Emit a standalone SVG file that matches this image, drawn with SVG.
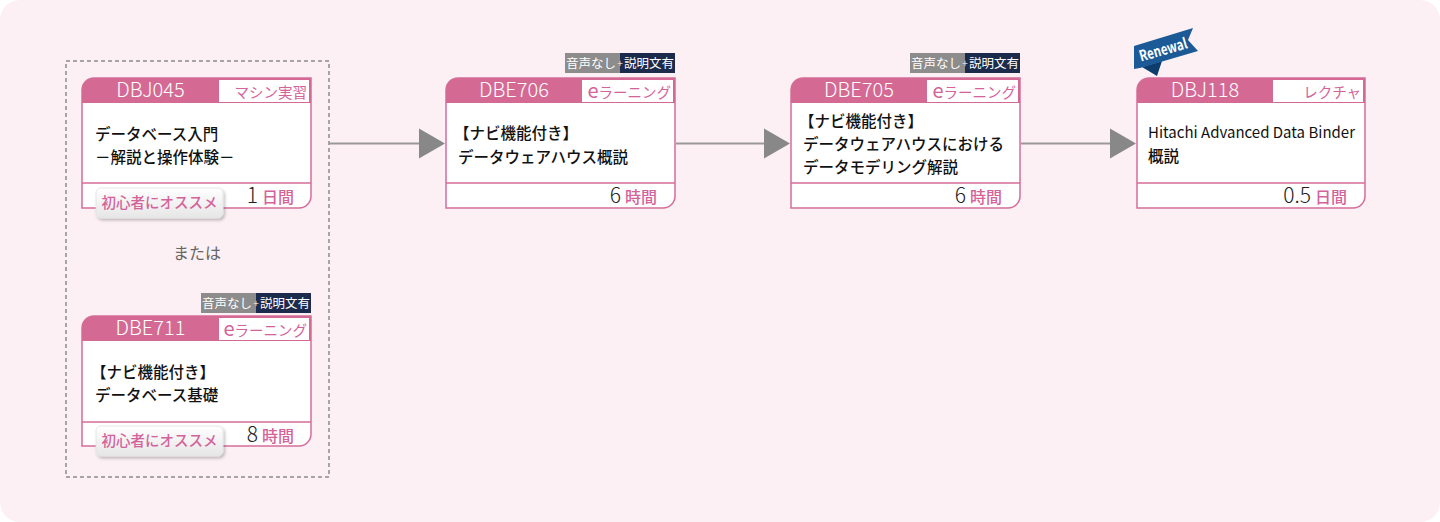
<svg xmlns="http://www.w3.org/2000/svg" width="1440" height="522" viewBox="0 0 1440 522">
<style>
text{font-family:"Noto Sans CJK JP","Noto Sans",sans-serif;}
.card{fill:#fff;stroke:#d66d98;stroke-width:1.5;}
.hdr{fill:#d46a94;}
.hbox{fill:#fff;}
.code{fill:#fff;font-size:20px;text-anchor:middle;font-weight:300;}
.kind{fill:#d4639a;font-size:14.5px;text-anchor:end;}
.kind .e{font-size:20px;}
.body{fill:#111;font-size:15.5px;font-weight:500;}
.lat{font-size:15px;font-weight:400;}
.sep{stroke:#d66d98;stroke-width:1.5;}
.dur{text-anchor:end;}
.num{fill:#222;font-size:21px;font-weight:300;}
.unit{fill:#d4639a;font-size:16px;font-weight:500;}
.rec{fill:url(#recg);stroke:#e2e2e2;stroke-width:0.8;filter:url(#sh);}
.rect{fill:#d4639a;font-size:14.5px;text-anchor:middle;font-weight:500;}
.ag{fill:#8c8c8c;}
.an{fill:#1c2a4c;}
.at{fill:#fff;font-size:12.5px;}
.ap{fill:#ddd;font-size:10px;text-anchor:middle;}
.conn{stroke:#999;stroke-width:2;fill:none;}
.head{fill:#888;}
</style>
<defs>
<linearGradient id="recg" x1="0" y1="0" x2="0" y2="1">
<stop offset="0" stop-color="#ffffff"/>
<stop offset="1" stop-color="#e6e6e6"/>
</linearGradient>
<filter id="sh" x="-10%" y="-20%" width="130%" height="160%">
<feDropShadow dx="1.5" dy="2" stdDeviation="1.5" flood-color="#000" flood-opacity="0.25"/>
</filter>
</defs>
<rect x="0" y="0" width="1440" height="522" rx="20" fill="#fcf0f4"/>
<rect x="66" y="61" width="263" height="416" fill="none" stroke="#8a8a8a" stroke-width="1.5" stroke-dasharray="4 3"/>
<text x="197" y="259" fill="#666" font-size="16" text-anchor="middle">または</text>

<g id="connectors">
<path class="conn" d="M329,143.5 H421"/>
<polygon class="head" points="419,128.5 445,143.5 419,158.5"/>
<path class="conn" d="M676,143.5 H766"/>
<polygon class="head" points="764,128.5 790,143.5 764,158.5"/>
<path class="conn" d="M1021,143.5 H1112"/>
<polygon class="head" points="1110,128.5 1136,143.5 1110,158.5"/>
</g>

<g id="DBJ045" transform="translate(82,78)">
<path class="card" d="M12,0 H229 V118 A12,12 0 0 1 217,130 H0 V12 A12,12 0 0 1 12,0 Z"/>
<path class="hdr" d="M12,0 H229 V25 H0 V12 A12,12 0 0 1 12,0 Z"/>
<rect class="hbox" x="137" y="2" width="90" height="22"/>
<text class="code" x="68.5" y="19">DBJ045</text>
<text class="kind" x="225" y="20">マシン実習</text>
<text class="body" x="13" y="62">データベース入門</text>
<text class="body" x="13" y="85">－解説と操作体験－</text>
<line class="sep" x1="0" y1="105" x2="229" y2="105"/>
<text class="dur" x="212" y="125"><tspan class="num">1</tspan><tspan class="unit" dx="4">日間</tspan></text>
<rect class="rec" x="14" y="110" width="127" height="30" rx="5"/>
<text class="rect" x="77.5" y="130">初心者にオススメ</text>
</g>

<g id="DBE711" transform="translate(82,316)">
<g>
<rect class="ag" x="119" y="-23" width="55" height="20"/>
<rect class="an" x="174" y="-23" width="55" height="20"/>
<text class="at" x="120" y="-8.5">音声なし</text>
<text class="ap" x="174" y="-9">+</text>
<text class="at" x="178" y="-8.5">説明文有</text>
</g>
<path class="card" d="M12,0 H229 V118 A12,12 0 0 1 217,130 H0 V12 A12,12 0 0 1 12,0 Z"/>
<path class="hdr" d="M12,0 H229 V25 H0 V12 A12,12 0 0 1 12,0 Z"/>
<rect class="hbox" x="137" y="2" width="90" height="22"/>
<text class="code" x="68.5" y="19">DBE711</text>
<text class="kind" x="225" y="20"><tspan class="e">e</tspan>ラーニング</text>
<text class="body" x="9" y="62">【ナビ機能付き】</text>
<text class="body" x="13" y="85">データベース基礎</text>
<line class="sep" x1="0" y1="106" x2="229" y2="106"/>
<text class="dur" x="212" y="126"><tspan class="num">8</tspan><tspan class="unit" dx="4">時間</tspan></text>
<rect class="rec" x="14" y="110" width="127" height="30" rx="5"/>
<text class="rect" x="77.5" y="130">初心者にオススメ</text>
</g>

<g id="DBE706" transform="translate(446,78)">
<g>
<rect class="ag" x="119" y="-25" width="55" height="20"/>
<rect class="an" x="174" y="-25" width="55" height="20"/>
<text class="at" x="120" y="-10.5">音声なし</text>
<text class="ap" x="174" y="-11">+</text>
<text class="at" x="178" y="-10.5">説明文有</text>
</g>
<path class="card" d="M12,0 H229 V118 A12,12 0 0 1 217,130 H0 V12 A12,12 0 0 1 12,0 Z"/>
<path class="hdr" d="M12,0 H229 V25 H0 V12 A12,12 0 0 1 12,0 Z"/>
<rect class="hbox" x="136" y="2" width="91" height="22"/>
<text class="code" x="68" y="19">DBE706</text>
<text class="kind" x="225" y="20"><tspan class="e">e</tspan>ラーニング</text>
<text class="body" x="8" y="61">【ナビ機能付き】</text>
<text class="body" x="12" y="85">データウェアハウス概説</text>
<line class="sep" x1="0" y1="105" x2="229" y2="105"/>
<text class="dur" x="211" y="125"><tspan class="num">6</tspan><tspan class="unit" dx="4">時間</tspan></text>
</g>

<g id="DBE705" transform="translate(791,78)">
<g>
<rect class="ag" x="119" y="-25" width="55" height="20"/>
<rect class="an" x="174" y="-25" width="55" height="20"/>
<text class="at" x="120" y="-10.5">音声なし</text>
<text class="ap" x="174" y="-11">+</text>
<text class="at" x="178" y="-10.5">説明文有</text>
</g>
<path class="card" d="M12,0 H229 V118 A12,12 0 0 1 217,130 H0 V12 A12,12 0 0 1 12,0 Z"/>
<path class="hdr" d="M12,0 H229 V25 H0 V12 A12,12 0 0 1 12,0 Z"/>
<rect class="hbox" x="136" y="2" width="91" height="22"/>
<text class="code" x="68" y="19">DBE705</text>
<text class="kind" x="225" y="20"><tspan class="e">e</tspan>ラーニング</text>
<text class="body" x="8" y="49">【ナビ機能付き】</text>
<text class="body" x="12" y="72">データウェアハウスにおける</text>
<text class="body" x="12" y="95">データモデリング解説</text>
<line class="sep" x1="0" y1="105" x2="229" y2="105"/>
<text class="dur" x="211" y="125"><tspan class="num">6</tspan><tspan class="unit" dx="4">時間</tspan></text>
</g>

<g id="DBJ118" transform="translate(1137,78)">
<g id="renewal">
<polygon fill="#0e3c6c" points="5,-11 25,-17 20,-2"/>
<polygon fill="#1b5a96" points="-3,-32 56,-50 51,-38 61,-27 3,-10 -3,-9"/>
<text x="26" y="-23" fill="#fff" font-size="15" font-weight="bold" font-family="'Liberation Sans Narrow','Roboto',sans-serif" text-anchor="middle" textLength="49" lengthAdjust="spacingAndGlyphs" transform="rotate(-16 26 -29)">Renewal</text>
</g>
<path class="card" d="M12,0 H228 V118 A12,12 0 0 1 216,130 H0 V12 A12,12 0 0 1 12,0 Z"/>
<path class="hdr" d="M12,0 H228 V25 H0 V12 A12,12 0 0 1 12,0 Z"/>
<rect class="hbox" x="136" y="2" width="90" height="22"/>
<text class="code" x="68" y="19">DBJ118</text>
<text class="kind" x="224" y="20">レクチャ</text>
<text class="body lat" x="11" y="60">Hitachi Advanced Data Binder</text>
<text class="body" x="11" y="84">概説</text>
<line class="sep" x1="0" y1="105" x2="228" y2="105"/>
<text class="dur" x="210" y="125"><tspan class="num">0.5</tspan><tspan class="unit" dx="4">日間</tspan></text>
</g>
</svg>
